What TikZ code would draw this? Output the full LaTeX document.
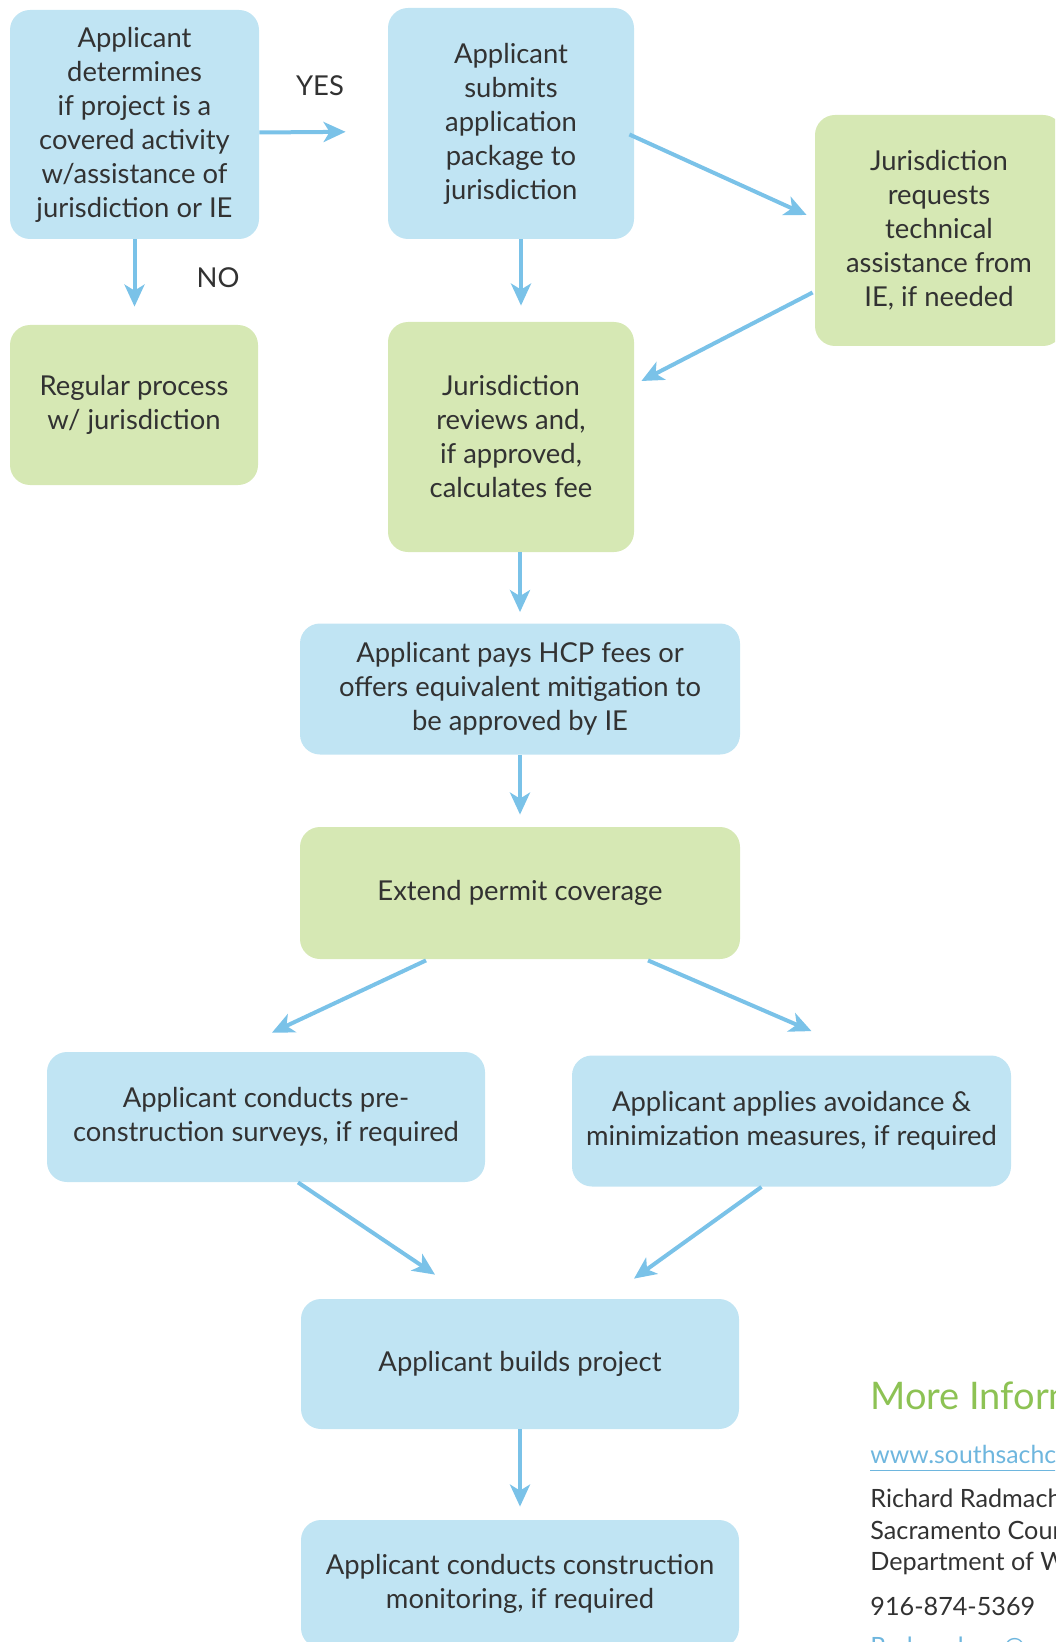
\documentclass[tikz,border=0pt]{standalone}
\usepackage{fontspec}
\setmainfont{Lato}
\usetikzlibrary{arrows.meta,calc}
\definecolor{bluebox}{RGB}{192,228,243}
\definecolor{greenbox}{RGB}{214,232,180}
\definecolor{arrowc}{RGB}{122,194,232}
\definecolor{txt}{RGB}{50,50,50}
\definecolor{moreg}{RGB}{141,194,84}
\definecolor{linkb}{RGB}{110,182,222}
\begin{document}
\begin{tikzpicture}[x=0.5pt,y=-0.5pt,
  box/.style={rounded corners=10pt, inner sep=0pt, align=center, text=txt, font=\fontsize{13.7}{17}\selectfont},
  bb/.style={box, fill=bluebox},
  gb/.style={box, fill=greenbox},
  arr/.style={draw=arrowc, line width=2pt, -{Stealth[length=11pt,width=10pt,inset=3pt]}},
  lbl/.style={text=txt, inner sep=0pt, font=\fontsize{13.7}{17}\selectfont},
  info/.style={anchor=base west, inner sep=0pt, text=txt, font=\fontsize{12.6}{15}\selectfont}]
\useasboundingbox (0,0) rectangle (1055,1642);
\clip (0,0) rectangle (1055,1642);

% boxes
\node[bb, minimum width=124.5pt, minimum height=114.5pt] (b1) at (134.5,124.5)
  {Applicant\\determines\\if project is a\\covered activity\\w/assistance of\\jurisdiction or IE};
\node[bb, minimum width=123pt, minimum height=115.5pt] (b2) at (511,123.5)
  {Applicant\\submits\\application\\package to\\jurisdiction};
\node[gb, minimum width=124pt, minimum height=115.5pt] (b3) at (939,230.5)
  {Jurisdiction\\requests\\technical\\assistance from\\IE, if needed};
\node[gb, minimum width=124pt, minimum height=80pt] (b4) at (134,405)
  {Regular process\\w/ jurisdiction};
\node[gb, minimum width=123pt, minimum height=115pt] (b5) at (511,437)
  {Jurisdiction\\reviews and,\\if approved,\\calculates fee};
\node[bb, minimum width=220pt, minimum height=65.5pt] (b6) at (520,689)
  {Applicant pays HCP fees or\\offers equivalent mitigation to\\be approved by IE};
\node[gb, minimum width=220pt, minimum height=66pt] (b7) at (520,893)
  {Extend permit coverage};
\node[bb, minimum width=219pt, minimum height=65pt] (b8) at (266,1117)
  {Applicant conducts pre-\\construction surveys, if required};
\node[bb, minimum width=219.5pt, minimum height=65.5pt] (b9) at (791.5,1121)
  {Applicant applies avoidance \&\\minimization measures, if required};
\node[bb, minimum width=219pt, minimum height=65pt] (b10) at (520,1364)
  {Applicant builds project};
\node[bb, minimum width=219pt, minimum height=64pt] (b11) at (520,1584)
  {Applicant conducts construction\\monitoring, if required};

% labels
\node[lbl] (yes) at (320,86) {YES};
\node[lbl] (no) at (218,278) {NO};

% connectors
\draw[arr, shorten >=21pt] ([yshift=-4pt]b1.east) -- ([yshift=-4pt]b2.west);
\draw[arr, shorten >=9pt] (b1.south) -- (b4.north -| b1.south);
\draw[arr, shorten >=8pt] ([xshift=5pt]b2.south) -- ([xshift=5pt]b5.north);
\draw[arr] ([xshift=-2.5pt,yshift=-5.5pt]b2.east) -- ([xshift=-4pt,yshift=7.75pt]b3.west);
\draw[arr] ([xshift=-1pt,yshift=-31pt]b3.west) -- ([xshift=3.5pt,yshift=28pt]b5.east);
\draw[arr, shorten >=5.5pt] (b5.south -| b6.north) -- (b6.north);
\draw[arr, shorten >=6pt] (b6.south) -- (b7.north);
\draw[arr] ([xshift=-47pt,yshift=-0.5pt]b7.south) -- ([xshift=3pt,yshift=9.5pt]b8.north);
\draw[arr] ([xshift=64pt,yshift=-0.5pt]b7.south) -- ([xshift=10pt,yshift=12pt]b9.north);
\draw[arr] ([xshift=16pt]b8.south) -- ([xshift=-42.5pt,yshift=12pt]b10.north);
\draw[arr] ([xshift=-15pt]b9.south) -- ([xshift=57pt,yshift=10pt]b10.north);
\draw[arr, shorten >=6.5pt] (b10.south) -- (b11.north);

% more information
\node[info, text=moreg, font=\fontsize{19}{21}\selectfont] (mi) at (870,1409) {More Information};
\node[info, text=linkb, font=\fontsize{12.4}{14}\selectfont] (url) at (870,1463) {\underline{www.southsachcp.com}};
\node[info] (rr) at (870,1507) {Richard Radmacher};
\node[info] (sc) at (870,1539) {Sacramento County};
\node[info] (dw) at (870,1570) {Department of Water Resources};
\node[info] (ph) at (870,1615) {916-874-5369};
\node[info, text=linkb] (em) at (870,1655) {\underline{Radmacherr@saccounty.net}};
\end{tikzpicture}
\end{document}
